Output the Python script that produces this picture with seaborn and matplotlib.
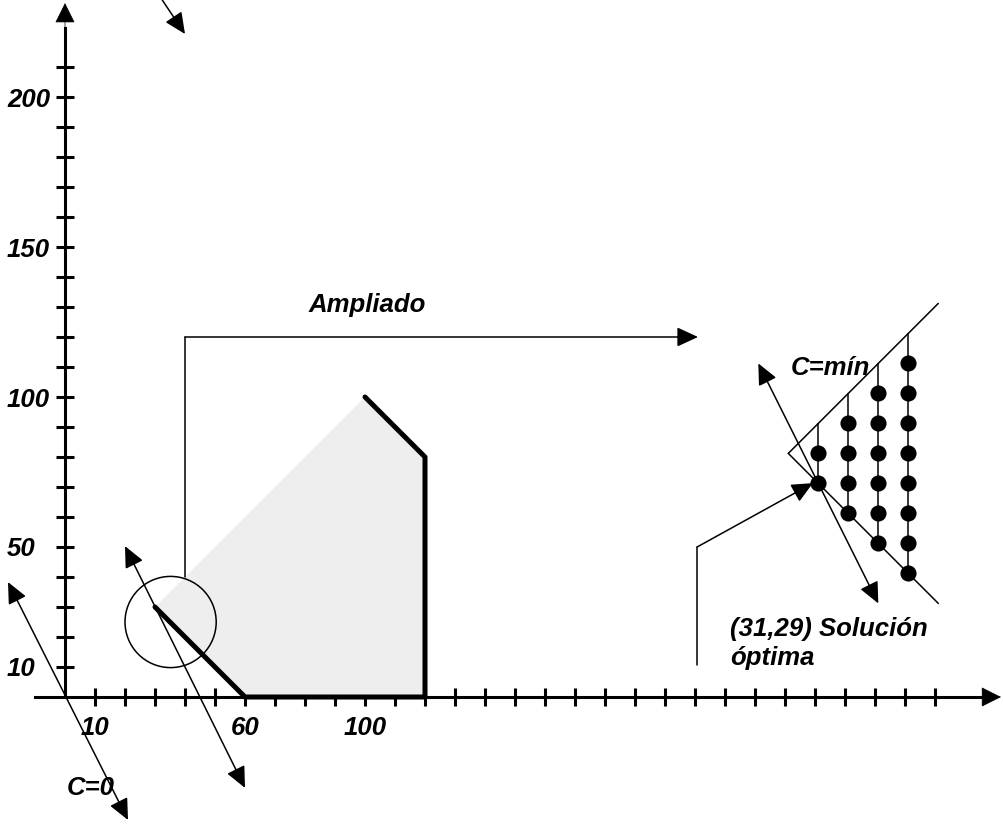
import numpy as np
import matplotlib
matplotlib.use("Agg")
import matplotlib.pyplot as plt
from matplotlib.patches import Circle
import seaborn as sns

# feasible region (main scale)
region_x = [30, 60, 120, 120, 100]
region_y = [30, 0, 0, 80, 100]

# iso-cost lines C=0 and through (30,30)
c0_x = [-19, 21]
c0_y = [38.3, -41]
c1_x = [20, 60]
c1_y = [50.3, -30.3]
top_arrow_x = [32.3, 40]
top_arrow_y = [232.5, 221]

# zoom marker
circle_xy = (35.2, 25)
circle_r = 15.2
zoom_path_x = [40, 40, 211]
zoom_path_y = [40, 120, 120]

# axis ticks
x_ticks = np.arange(10, 300, 10)
x_labeled = [10, 60, 100]
y_ticks = np.arange(10, 220, 10)
y_labeled = [10, 50, 100, 150, 200]

# enlarged view: integer points near the optimum
lattice_x = [31, 31, 32, 32, 32, 32, 33, 33, 33, 33, 33, 33,
             34, 34, 34, 34, 34, 34, 34, 34]
lattice_y = [29, 30, 28, 29, 30, 31, 27, 28, 29, 30, 31, 32,
             26, 27, 28, 29, 30, 31, 32, 33]
col_x = [31, 32, 33, 34]
col_bottom = [29, 28, 27, 26]
col_top = [31, 32, 33, 34]
upper_x, upper_y = [30, 35], [30, 35]
lower_x, lower_y = [30, 35], [30, 25]
cmin_x, cmin_y = [29, 33], [33, 25]
pointer_x = [26.96, 26.96, 30.82]
pointer_y = [22.94, 26.88, 29.01]

sns.set_theme(style="white")
plt.rcParams["font.family"] = ["Liberation Sans", "DejaVu Sans"]
plt.rcParams["font.weight"] = "bold"
plt.rcParams["font.style"] = "italic"
plt.rcParams["text.color"] = "black"

fs = 18.5
fig = plt.figure(figsize=(10.04, 8.26), dpi=100)
ax = fig.add_axes([0, 0, 1, 1])
xlim = (-65 / 3, (1004 - 65) / 3)
ylim = ((697 - 826) / 3, 697 / 3)
ax.set_xlim(*xlim)
ax.set_ylim(*ylim)
ax.set_facecolor("white")

def arrow(a, x, y, style="-|>", lw=1.1, hl=1.3, hw=0.6):
    a.annotate("", xy=(x[-1], y[-1]), xytext=(x[0], y[0]),
               arrowprops=dict(arrowstyle=f"{style},head_length={hl},head_width={hw}",
                               mutation_scale=10, color="black", lw=lw,
                               shrinkA=0, shrinkB=0))

# axes as spines through the origin
for s in ["top", "right"]:
    ax.spines[s].set_visible(False)
ax.spines["left"].set_position(("data", 0))
ax.spines["bottom"].set_position(("data", 0))
ax.spines["left"].set_bounds(0, 223)
ax.spines["bottom"].set_bounds(-10, 306)
for s in ["left", "bottom"]:
    ax.spines[s].set_linewidth(2.2)
    ax.spines[s].set_color("black")
ax.set_xticks(x_ticks)
ax.set_xticklabels([str(v) if v in x_labeled else "" for v in x_ticks])
ax.set_yticks(y_ticks)
ax.set_yticklabels([str(v) if v in y_labeled else "" for v in y_ticks])
ax.tick_params(axis="both", direction="inout", length=13, width=2.2,
               bottom=True, left=True, color="black",
               labelsize=fs, labelcolor="black")
ax.tick_params(axis="x", pad=7.5)
ax.tick_params(axis="y", pad=35.3)
for t in ax.get_yticklabels():
    t.set_horizontalalignment("left")
arrow(ax, [0, 0], [222, 231.3], lw=0.5, hl=1.3, hw=0.65)
arrow(ax, [305, 312], [0, 0], lw=0.5, hl=1.3, hw=0.65)

# feasible region
ax.fill(region_x, region_y, color="#eeeeee", lw=0, zorder=1)
sns.lineplot(x=region_x, y=region_y, sort=False, estimator=None, ax=ax,
             color="black", lw=3.6, zorder=3, solid_capstyle="round")

# iso-cost arrows
arrow(ax, c0_x, c0_y, style="<|-|>")
arrow(ax, c1_x, c1_y, style="<|-|>")
arrow(ax, top_arrow_x, top_arrow_y)

ax.add_patch(Circle(circle_xy, circle_r, fill=False, ec="black", lw=1.1, zorder=4))
ax.plot(zoom_path_x[:2], zoom_path_y[:2], color="black", lw=1.1)
arrow(ax, zoom_path_x[1:], zoom_path_y[1:])

ax.text(100.7, 130.7, "Ampliado", fontsize=fs, ha="center", va="center")
ax.text(8.7, -32.7, "C=0", fontsize=fs, ha="center", va="baseline")
ax.text(221.7, 20.3, "(31,29) Solución", fontsize=fs, ha="left", va="baseline")
ax.text(221.7, 10.8, "óptima", fontsize=fs, ha="left", va="baseline")

# enlarged view on its own scale: (31,29) sits at main (251.1, 71.2), 10 units per step
ins = fig.add_axes([0, 0, 1, 1])
ins.set_xlim(31 + (xlim[0] - 251.1) / 10, 31 + (xlim[1] - 251.1) / 10)
ins.set_ylim(29 + (ylim[0] - 71.2) / 10, 29 + (ylim[1] - 71.2) / 10)
ins.axis("off")
ins.patch.set_alpha(0)

ins.plot(upper_x, upper_y, color="black", lw=1.1)
ins.plot(lower_x, lower_y, color="black", lw=1.1)
ins.vlines(col_x, col_bottom, col_top, color="black", lw=1.1)
sns.scatterplot(x=lattice_x, y=lattice_y, ax=ins, s=135, color="black",
                linewidth=0, legend=False, zorder=3)
arrow(ins, cmin_x, cmin_y, style="<|-|>")
ins.plot(pointer_x[:2], pointer_y[:2], color="black", lw=1.1)
arrow(ins, pointer_x[1:], pointer_y[1:])
ins.text(31.39, 32.61, "C=mín", fontsize=fs, ha="center", va="baseline")

fig.savefig("out.png", dpi=100, facecolor="white")
